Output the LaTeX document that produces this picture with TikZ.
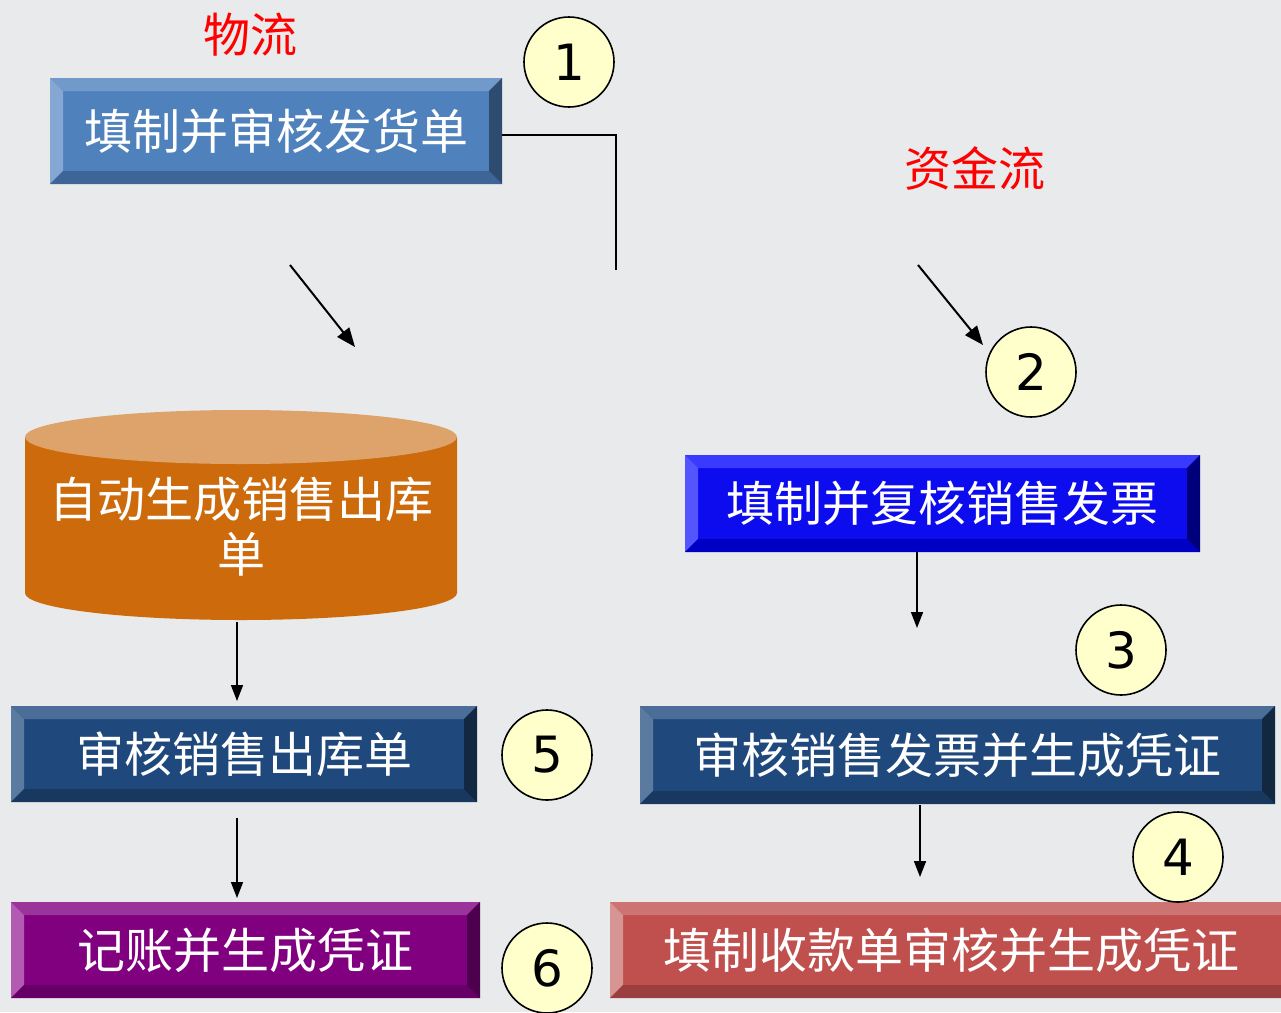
\documentclass[tikz,border=0pt]{standalone}
\usepackage{fontspec}
\newfontfamily\cjk{Noto Sans CJK SC}
\newfontfamily\numf{DejaVu Sans}
\usetikzlibrary{arrows.meta}
\definecolor{bg}{HTML}{E8EAEC}
% blue box
\definecolor{colAM}{HTML}{4F81BD}\definecolor{colAT}{HTML}{7199C9}\definecolor{colAL}{HTML}{84A7D3}\definecolor{colAB}{HTML}{3E6597}\definecolor{colAR}{HTML}{2E4B70}
% bright blue
\definecolor{colBM}{HTML}{0C0CEE}\definecolor{colBT}{HTML}{3A3AFF}\definecolor{colBL}{HTML}{5555FF}\definecolor{colBB}{HTML}{0000C4}\definecolor{colBR}{HTML}{00007A}
% navy
\definecolor{colNM}{HTML}{1F497D}\definecolor{colNT}{HTML}{4A6E98}\definecolor{colNL}{HTML}{5A7AA0}\definecolor{colNB}{HTML}{19385F}\definecolor{colNR}{HTML}{112840}
% purple
\definecolor{colPM}{HTML}{800080}\definecolor{colPT}{HTML}{9A339A}\definecolor{colPL}{HTML}{B35AB3}\definecolor{colPB}{HTML}{660066}\definecolor{colPR}{HTML}{4D004D}
% red
\definecolor{colRM}{HTML}{C0504D}\definecolor{colRT}{HTML}{CD7371}\definecolor{colRL}{HTML}{D69593}\definecolor{colRB}{HTML}{9A3F3D}\definecolor{colRR}{HTML}{7A3230}
\definecolor{cylbody}{HTML}{CD6B0C}
\definecolor{cyltop}{HTML}{DDA36A}
\definecolor{circfill}{HTML}{FFFFCC}
\definecolor{lblred}{HTML}{FF0000}
\def\bw{13}
\newcommand{\bevelbox}[8]{% name, cx, cy, w, h, colour prefix, text x shift, text
  \node[minimum width=#4pt, minimum height=#5pt, inner sep=0pt, outer sep=0pt, fill=col#6M] (#1) at (#2,#3) {};
  \fill[fill=col#6T] (#1.north west) -- (#1.north east) -- ([shift={(-\bw,-\bw)}]#1.north east) -- ([shift={(\bw,-\bw)}]#1.north west) -- cycle;
  \fill[fill=col#6L] (#1.north west) -- (#1.south west) -- ([shift={(\bw,\bw)}]#1.south west) -- ([shift={(\bw,-\bw)}]#1.north west) -- cycle;
  \fill[fill=col#6B] (#1.south west) -- (#1.south east) -- ([shift={(-\bw,\bw)}]#1.south east) -- ([shift={(\bw,\bw)}]#1.south west) -- cycle;
  \fill[fill=col#6R] (#1.north east) -- (#1.south east) -- ([shift={(-\bw,\bw)}]#1.south east) -- ([shift={(-\bw,-\bw)}]#1.north east) -- cycle;
  \node[boxtext] at ([xshift=#7pt]#1.center) {#8};
}
\tikzset{
  boxtext/.style={text=white, font=\cjk\fontsize{48}{56}\selectfont, inner sep=0pt},
  numcirc/.style={circle, draw=black, line width=1.6pt, fill=circfill, minimum size=90pt, inner sep=0pt, font=\numf\fontsize{50}{56}\selectfont},
  redlbl/.style={text=lblred, font=\cjk\fontsize{47}{56}\selectfont, inner sep=0pt},
  arr/.style={-{Triangle[length=16pt,width=12pt]}, line width=1.6pt, black},
  darr/.style={-{Triangle[length=19pt,width=15pt]}, line width=2pt, black},
  conn/.style={line width=1.6pt, black}
}
\begin{document}
\begin{tikzpicture}[x=1pt,y=1pt]
\useasboundingbox (0,0) rectangle (1281,-1012);
\fill[bg] (0,0) rectangle (1281,-1012);

% labels
\node[redlbl] (wuliu) at (250,-35) {物流};
\node[redlbl] (zijin) at (975,-168) {资金流};

% boxes
\bevelbox{B1}{276}{-131}{452}{106}{A}{0}{填制并审核发货单}
\bevelbox{B2}{942.5}{-503.5}{515}{97}{B}{0}{填制并复核销售发票}
\bevelbox{B3}{244}{-754}{466}{96}{N}{0}{审核销售出库单}
\bevelbox{B4}{957.5}{-755}{635}{98}{N}{0}{审核销售发票并生成凭证}
\bevelbox{B5}{245.5}{-950}{469}{96}{P}{0}{记账并生成凭证}
\bevelbox{B6}{955}{-950}{690}{96}{R}{-4}{填制收款单审核并生成凭证}

% cylinder
\fill[cylbody] (25,-437) -- (25,-593) arc[start angle=180, end angle=360, x radius=216pt, y radius=27pt] -- (457,-437) -- cycle;
\fill[cyltop] (241,-437) ellipse[x radius=216pt, y radius=27pt];
\node[boxtext, align=center, font=\cjk\fontsize{48}{55}\selectfont] (cyl) at (241,-527) {自动生成销售出库\\单};

% circles
\node[numcirc] (c1) at (569,-62) {1};
\node[numcirc] (c2) at (1031,-372) {2};
\node[numcirc] (c3) at (1121,-650) {3};
\node[numcirc] (c5) at (547,-755) {5};
\node[numcirc] (c4) at (1178,-857) {4};
\node[numcirc] (c6) at (547,-968) {6};

% free ends
\coordinate (l1end) at (616,-270);
\coordinate (d1s) at (290,-265);
\coordinate (d1e) at (355,-347);
\coordinate (d2s) at (918,-265);
\coordinate (d2e) at (983,-345);
\coordinate (cylbot) at (237,-622);
\coordinate (a4s) at (237,-818);
\coordinate (a5s) at (917,-552);
\coordinate (a5e) at (917,-628);
\coordinate (a6s) at (920,-805);
\coordinate (a6e) at (920,-877);

% connectors
\draw[conn] ([yshift=-4pt]B1.east) -| (l1end);
\draw[darr] (d1s) -- (d1e);
\draw[darr] (d2s) -- (d2e);
\draw[arr, shorten >=5pt] (cylbot) -- (cylbot |- B3.north);
\draw[arr, shorten >=4pt] (a4s) -- (a4s |- B5.north);
\draw[arr] (a5s) -- (a5e);
\draw[arr] (a6s) -- (a6e);
\end{tikzpicture}
\end{document}
